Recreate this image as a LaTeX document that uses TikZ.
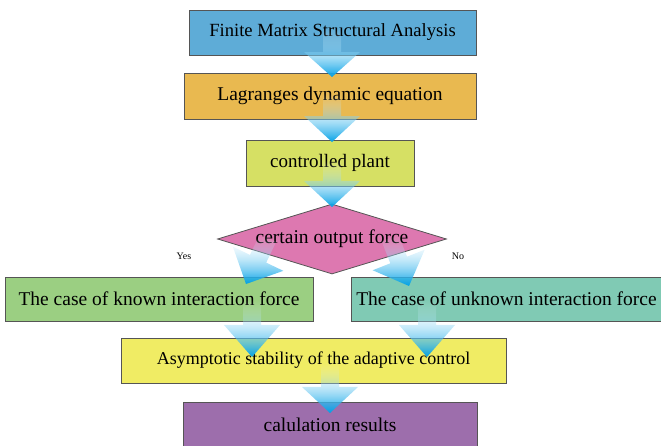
\documentclass[tikz,border=0pt]{standalone}
\usepackage{fontspec}
\setmainfont{Liberation Serif}
\usepackage{xcolor}
\usetikzlibrary{shapes.geometric, calc, fadings}
\definecolor{matrixblue}{RGB}{94,172,215}
\definecolor{lagrangegold}{RGB}{233,185,80}
\definecolor{plantlime}{RGB}{214,224,100}
\definecolor{forcepink}{RGB}{221,120,176}
\definecolor{knowngreen}{RGB}{155,207,130}
\definecolor{unknownteal}{RGB}{128,202,180}
\definecolor{stableyellow}{RGB}{240,236,100}
\definecolor{resultpurple}{RGB}{157,110,172}
\definecolor{boxedge}{RGB}{85,85,85}
\definecolor{arrowblue}{RGB}{0,160,230}

\tikzfading[name=tailfade, top color=transparent!100, bottom color=transparent!0]

\tikzset{
    stepbox/.style={draw=boxedge, line width=0.8pt, minimum height=45pt, inner sep=0pt,
        font=\fontsize{19.5}{22}\selectfont},
    flowarrow/.style={top color=white, middle color=arrowblue!45, bottom color=arrowblue,
        path fading=tailfade},
    branchlabel/.style={font=\fontsize{10}{12}\selectfont}
}

% fat arrow from #2 to #3, head length #1
\newcommand{\fatarrow}[3][26pt]{%
    \coordinate (hb) at ($(#3)!#1!(#2)$);
    \path[flowarrow] ($(#2)!9pt!90:(#3)$) -- ($(hb)!9pt!90:(#3)$) -- ($(hb)!28pt!90:(#3)$)
        -- (#3) -- ($(hb)!28pt!-90:(#3)$) -- ($(hb)!9pt!-90:(#3)$) -- ($(#2)!9pt!-90:(#3)$) -- cycle;
}

\begin{document}
\begin{tikzpicture}[x=1pt, y=1pt]
    \useasboundingbox (0,0) rectangle (661,-446);

    % Boxes
    \node[stepbox, fill=matrixblue, minimum width=287pt, font=\fontsize{18.6}{22}\selectfont] (fma) at (332.5,-32.5) {Finite Matrix Structural Analysis};
    \node[stepbox, fill=lagrangegold, minimum width=292pt, minimum height=46pt] (lagrange) at (330,-96) {Lagranges dynamic equation};
    \node[stepbox, fill=plantlime, minimum width=168pt, minimum height=46pt, font=\fontsize{19}{22}\selectfont] (plant) at (330,-163) {controlled plant};
    \node[draw=boxedge, line width=0.8pt, fill=forcepink, shape=diamond, aspect=3.27, inner sep=0pt,
        minimum width=229pt, minimum height=70pt, font=\fontsize{19.5}{22}\selectfont] (decide) at (332,-239) {certain output force};
    \node[stepbox, fill=knowngreen, minimum width=308pt, minimum height=44pt] (known) at (159,-299) {The case of known interaction force};
    \node[stepbox, fill=unknownteal, minimum width=311pt, minimum height=44pt] (unknown) at (506.5,-299) {The case of unknown interaction force};
    \node[stepbox, fill=stableyellow, minimum width=385pt, font=\fontsize{18}{22}\selectfont] (stability) at (313.5,-360.5) {Asymptotic stability of the adaptive control};
    \node[stepbox, fill=resultpurple, minimum width=294pt] (results) at (330,-424.5) {calulation results};

    % Branch labels
    \node[branchlabel] (yes) at (184,-256) {Yes};
    \node[branchlabel] (no) at (458,-256) {No};

    % Arrow ends
    \coordinate (a1s) at (332,-28);   \coordinate (a1e) at (332,-77);
    \coordinate (a2s) at (332,-93);   \coordinate (a2e) at (332,-142);
    \coordinate (a3s) at (332,-160);  \coordinate (a3e) at (332,-207);
    \coordinate (a4s) at (268,-238);  \coordinate (a4e) at (246,-284);
    \coordinate (a5s) at (390,-238);  \coordinate (a5e) at (409,-286);
    \coordinate (a6s) at (252,-300);  \coordinate (a6e) at (252,-357);
    \coordinate (a7s) at (427,-300);  \coordinate (a7e) at (427,-357);
    \coordinate (a8s) at (330,-362);  \coordinate (a8e) at (330,-413);

    % Arrows
    \fatarrow[25pt]{a1s}{a1e}
    \fatarrow{a2s}{a2e}
    \fatarrow{a3s}{a3e}
    \fatarrow[28pt]{a4s}{a4e}
    \fatarrow[28pt]{a5s}{a5e}
    \fatarrow[32pt]{a6s}{a6e}
    \fatarrow[32pt]{a7s}{a7e}
    \fatarrow{a8s}{a8e}
\end{tikzpicture}
\end{document}
